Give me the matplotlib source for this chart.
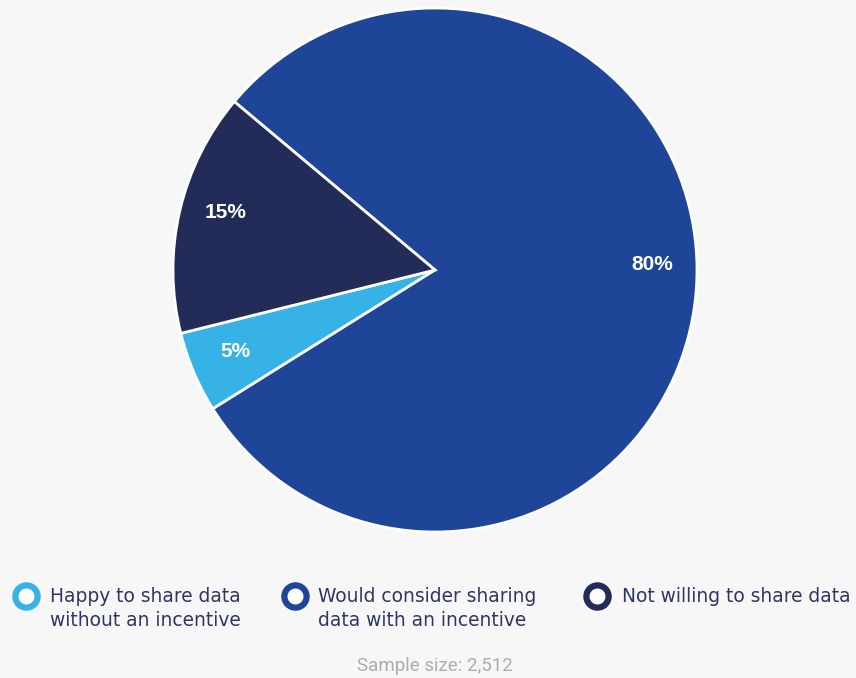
import matplotlib
matplotlib.use("Agg")
import matplotlib.pyplot as plt
from matplotlib.lines import Line2D

# Survey answers, in legend order
labels = ["Happy to share data\nwithout an incentive",
          "Would consider sharing\ndata with an incentive",
          "Not willing to share data"]
shares = [5, 80, 15]
colors = ["#36B2E6", "#1E4597", "#232B59"]
sample_size = "Sample size: 2,512"

W, H = 856, 678
fig = plt.figure(figsize=(W / 100, H / 100), dpi=100)
fig.patch.set_facecolor("#F7F7F7")

# pie centred at (435, 270) px with radius 262 px
cx, cy, r = 435, 270, 262
ax = fig.add_axes([(cx - r) / W, (H - cy - r) / H, 2 * r / W, 2 * r / H])
wedges, texts, autotexts = ax.pie(
    shares, colors=colors, startangle=194, counterclock=True,
    autopct=lambda p: f"{p:.0f}%", pctdistance=0.82,
    wedgeprops=dict(edgecolor="white", linewidth=2),
    textprops=dict(color="white", fontsize=15, fontweight="bold",
                   family="Liberation Sans"))
ax.set_xlim(-1, 1)
ax.set_ylim(-1, 1)
ax.axis("off")

# percentage labels sit a little off the wedge mid-angle
label_pos = [(-0.76, -0.31), (0.83, 0.02), (-0.80, 0.22)]
for t, pos in zip(autotexts, label_pos):
    t.set_position(pos)

# legend built by hand: ring markers + two-line labels
marker_x = [26, 295, 597]
text_x = [50, 318, 622]
for mx, tx, lab, col in zip(marker_x, text_x, labels, colors):
    fig.add_artist(Line2D([mx / W], [1 - 596 / H], marker="o", markersize=16,
                          markerfacecolor="white", markeredgecolor=col,
                          markeredgewidth=4.5, transform=fig.transFigure))
    fig.text(tx / W, 1 - 587 / H, lab, ha="left", va="top", fontsize=13.4,
             color="#2E3566", linespacing=1.3, family="DejaVu Sans")

fig.text(cx / W, 1 - 666 / H, sample_size, ha="center", va="center",
         fontsize=13.5, color="#ADADAD", family="Roboto")

fig.savefig("out.png", dpi=100, facecolor=fig.get_facecolor())
